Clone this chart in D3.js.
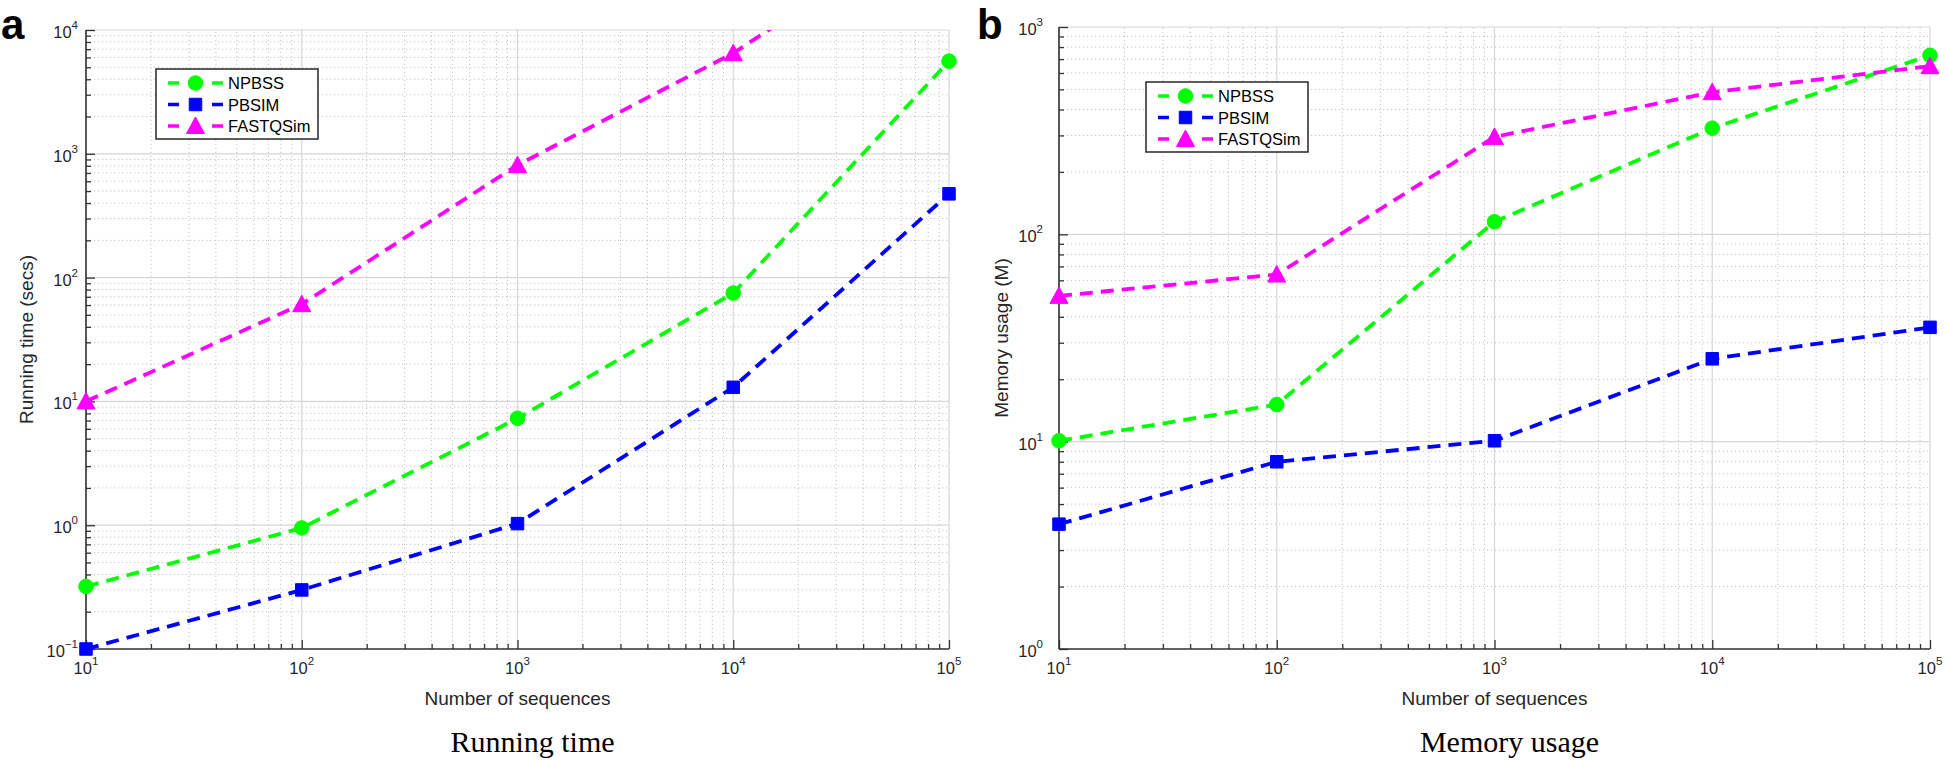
<!DOCTYPE html>
<html>
<head>
<meta charset="utf-8">
<script src="https://cdn.jsdelivr.net/npm/d3@7"></script>
<style>
  body { margin: 0; background: #fff; }
  svg { display: block; font-family: "Liberation Sans", Arial, sans-serif; }
</style>
</head>
<body>
<svg id="chart" width="1946" height="761"></svg>
<script>
// data
var seqCounts = [10, 100, 1000, 10000, 100000];
var seriesNames = ["NPBSS", "PBSIM", "FASTQSim"];
var seriesColors = ["#00ff00", "#0000ff", "#ff00ff"];
var seriesMarkers = ["circle", "square", "triangle"];

var runNPBSS = [0.32, 0.95, 7.3, 75, 5600];
var runPBSIM = [0.1, 0.3, 1.03, 13, 475];
var runFASTQSim = [10, 61, 810, 6500, 90000];

var memNPBSS = [10.1, 15.1, 115, 325, 730];
var memPBSIM = [4.0, 8.0, 10.1, 25.1, 35.6];
var memFASTQSim = [50.5, 64, 295, 485, 647];

var xTickValues = [10, 100, 1000, 10000, 100000];
var runTickValues = [0.1, 1, 10, 100, 1000, 10000];
var memTickValues = [1, 10, 100, 1000];

var svg = d3.select("#chart");

function minorTicks(domain) {
    var out = [];
    var lo = Math.floor(Math.log10(domain[0]));
    var hi = Math.ceil(Math.log10(domain[1]));
    for (var e = lo; e < hi; e++) {
        for (var k = 2; k <= 9; k++) {
            var v = k * Math.pow(10, e);
            if (v > domain[0] && v < domain[1]) out.push(v);
        }
    }
    return out;
}

function powLabel(sel, v) {
    var e = Math.round(Math.log10(v));
    sel.append("tspan").text("10");
    sel.append("tspan").attr("dy", -9).attr("font-size", 11.5).text(String(e).replace("-", "\u2212"));
}

function drawPanel(cfg) {
    var g = svg.append("g");
    var x = d3.scaleLog().domain([10, 100000]).range(cfg.xr);
    var y = d3.scaleLog().domain(cfg.yDomain).range(cfg.yr);
    var x0 = cfg.xr[0], x1 = cfg.xr[1], y0 = cfg.yr[0], y1 = cfg.yr[1];

    // minor grid (dotted)
    g.selectAll(".mgx").data(minorTicks(x.domain())).enter().append("line")
        .attr("x1", function (d) { return x(d); }).attr("x2", function (d) { return x(d); })
        .attr("y1", y0).attr("y2", y1)
        .attr("stroke", "#c2c2c2").attr("stroke-dasharray", "1.2,2.8");
    g.selectAll(".mgy").data(minorTicks(y.domain())).enter().append("line")
        .attr("y1", function (d) { return y(d); }).attr("y2", function (d) { return y(d); })
        .attr("x1", x0).attr("x2", x1)
        .attr("stroke", "#c2c2c2").attr("stroke-dasharray", "1.2,2.8");
    // major grid
    g.selectAll(".gx").data(cfg.xTicks).enter().append("line")
        .attr("x1", function (d) { return x(d); }).attr("x2", function (d) { return x(d); })
        .attr("y1", y0).attr("y2", y1)
        .attr("stroke", "#d6d6d6").attr("stroke-width", 1.2);
    g.selectAll(".gy").data(cfg.yTicks).enter().append("line")
        .attr("y1", function (d) { return y(d); }).attr("y2", function (d) { return y(d); })
        .attr("x1", x0).attr("x2", x1)
        .attr("stroke", "#d6d6d6").attr("stroke-width", 1.2);

    // axes, ticks pointing inward
    var xAxis = d3.axisTop(x).tickValues(cfg.xTicks).tickSize(9).tickFormat("");
    var xAxisMinor = d3.axisTop(x).tickValues(minorTicks(x.domain())).tickSize(5).tickFormat("");
    var yAxis = d3.axisRight(y).tickValues(cfg.yTicks).tickSize(9).tickFormat("");
    var yAxisMinor = d3.axisRight(y).tickValues(minorTicks(y.domain())).tickSize(5).tickFormat("");
    [xAxis, xAxisMinor].forEach(function (ax) {
        g.append("g").attr("transform", "translate(0," + y0 + ")").call(ax)
            .call(function (s) { s.select(".domain").remove(); })
            .selectAll("line").attr("stroke", "#333").attr("stroke-width", 1.3);
    });
    [yAxis, yAxisMinor].forEach(function (ax) {
        g.append("g").attr("transform", "translate(" + x0 + ",0)").call(ax)
            .call(function (s) { s.select(".domain").remove(); })
            .selectAll("line").attr("stroke", "#333").attr("stroke-width", 1.3);
    });
    g.append("line").attr("x1", x0).attr("x2", x1).attr("y1", y0).attr("y2", y0)
        .attr("stroke", "#333").attr("stroke-width", 1.6);
    g.append("line").attr("x1", x0).attr("x2", x0).attr("y1", y0).attr("y2", y1)
        .attr("stroke", "#333").attr("stroke-width", 1.6);

    // tick labels
    g.selectAll(".xl").data(cfg.xTicks).enter().append("text")
        .attr("x", function (d) { return x(d); }).attr("y", y0 + 25)
        .attr("text-anchor", "middle").attr("font-size", 16.5).attr("fill", "#262626")
        .each(function (d) { powLabel(d3.select(this), d); });
    g.selectAll(".yl").data(cfg.yTicks).enter().append("text")
        .attr("x", x0 - cfg.yLabGap).attr("y", function (d) { return y(d) + 8; })
        .attr("text-anchor", "end").attr("font-size", 16.5).attr("fill", "#262626")
        .each(function (d) { powLabel(d3.select(this), d); });

    // axis labels
    g.append("text").attr("x", (x0 + x1) / 2).attr("y", 705)
        .attr("text-anchor", "middle").attr("font-size", 19).attr("fill", "#262626")
        .text("Number of sequences");
    g.append("text")
        .attr("transform", "translate(" + cfg.yTitleX + "," + (y0 + y1) / 2 + ") rotate(-90)")
        .attr("text-anchor", "middle").attr("font-size", 19).attr("fill", "#262626")
        .text(cfg.yTitle);

    // caption and panel letter
    g.append("text").attr("x", (x0 + x1) / 2 + 15).attr("y", 752)
        .attr("text-anchor", "middle").attr("font-family", "'Liberation Serif', 'Times New Roman', serif")
        .attr("font-size", 30).attr("fill", "#000").text(cfg.caption);
    g.append("text").attr("x", cfg.letterX).attr("y", 39)
        .attr("font-size", 42).attr("font-weight", "bold").attr("fill", "#000").text(cfg.letter);

    // series
    var clipId = "clip" + cfg.letter;
    svg.append("clipPath").attr("id", clipId).append("rect")
        .attr("x", x0).attr("y", y1).attr("width", x1 - x0).attr("height", y0 - y1);
    var markClip = "mclip" + cfg.letter;
    svg.append("clipPath").attr("id", markClip).append("rect")
        .attr("x", x0 - 12).attr("y", y1 - 12).attr("width", x1 - x0 + 24).attr("height", y0 - y1 + 24);

    var line = d3.line().x(function (d) { return x(d[0]); }).y(function (d) { return y(d[1]); });

    cfg.series.forEach(function (vals, i) {
        var pts = seqCounts.map(function (c, j) { return [c, vals[j]]; });
        var color = seriesColors[i];
        g.append("path").datum(pts).attr("d", line)
            .attr("clip-path", "url(#" + clipId + ")")
            .attr("fill", "none").attr("stroke", color).attr("stroke-width", 3.8)
            .attr("stroke-dasharray", "13,8");
        var mg = g.append("g").attr("clip-path", "url(#" + markClip + ")");
        mg.selectAll(".m").data(pts).enter().append("path")
            .attr("transform", function (d) { return "translate(" + x(d[0]) + "," + y(d[1]) + ")"; })
            .attr("d", markerPath(seriesMarkers[i]))
            .attr("fill", color).attr("stroke", color).attr("stroke-width", 1);
    });

    // legend
    var lg = g.append("g").attr("transform", "translate(" + cfg.legend[0] + "," + cfg.legend[1] + ")");
    lg.append("rect").attr("x", 0).attr("y", 0).attr("width", 162).attr("height", 70)
        .attr("fill", "#fff").attr("stroke", "#262626").attr("stroke-width", 1.5);
    seriesNames.forEach(function (name, i) {
        var ry = 14 + i * 21.5;
        var color = seriesColors[i];
        lg.append("line").attr("x1", 12).attr("x2", 23).attr("y1", ry).attr("y2", ry)
            .attr("stroke", color).attr("stroke-width", 3.5);
        lg.append("line").attr("x1", 56).attr("x2", 67).attr("y1", ry).attr("y2", ry)
            .attr("stroke", color).attr("stroke-width", 3.5);
        lg.append("path").attr("transform", "translate(39.5," + ry + ")")
            .attr("d", markerPath(seriesMarkers[i])).attr("fill", color).attr("stroke", color);
        lg.append("text").attr("x", 72).attr("y", ry + 6).attr("font-size", 16.5)
            .attr("fill", "#000").text(name);
    });
}

function markerPath(kind) {
    if (kind === "circle") return d3.symbol().type(d3.symbolCircle).size(Math.PI * 7.3 * 7.3)();
    if (kind === "square") return d3.symbol().type(d3.symbolSquare).size(12.5 * 12.5)();
    return "M0,-9L9,7.5L-9,7.5Z";
}

drawPanel({
    letter: "a", letterX: 1,
    xr: [86, 949], yr: [649, 30],
    yDomain: [0.1, 10000], yTicks: runTickValues, xTicks: xTickValues,
    yLabGap: 8, yTitleX: 33, yTitle: "Running time (secs)",
    caption: "Running time",
    series: [runNPBSS, runPBSIM, runFASTQSim],
    legend: [156, 69]
});

drawPanel({
    letter: "b", letterX: 977,
    xr: [1059, 1930], yr: [649, 27],
    yDomain: [1, 1000], yTicks: memTickValues, xTicks: xTickValues,
    yLabGap: 16, yTitleX: 1008, yTitle: "Memory usage (M)",
    caption: "Memory usage",
    series: [memNPBSS, memPBSIM, memFASTQSim],
    legend: [1146, 82]
});
</script>
</body>
</html>
